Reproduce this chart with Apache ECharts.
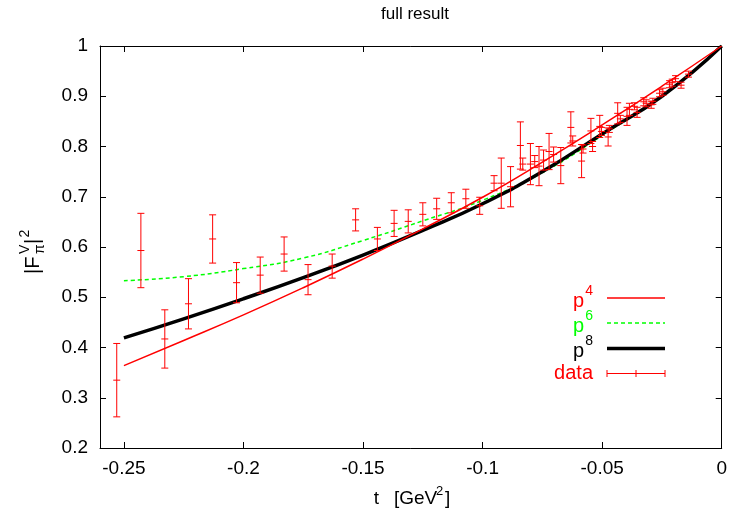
<!DOCTYPE html>
<html>
<head>
<meta charset="utf-8">
<script src="https://cdn.jsdelivr.net/npm/echarts@6/dist/echarts.min.js"></script>
<style>html,body{margin:0;padding:0;background:#fff}#c{width:730px;height:517px}</style>
</head>
<body>
<div id="c"></div>
<script>
// ---- data ----
const curveT = [-0.25, -0.225, -0.2, -0.175, -0.15, -0.125, -0.1, -0.075, -0.05, -0.025, 0];
const p4 = [0.364, 0.414, 0.465, 0.519, 0.576, 0.636, 0.699, 0.769, 0.843, 0.920, 1.0];
const p6 = [0.533, 0.541, 0.557, 0.578, 0.613, 0.652, 0.693, 0.748, 0.822, 0.901, 1.0];
const p8 = [0.419, 0.457, 0.497, 0.539, 0.584, 0.633, 0.686, 0.750, 0.825, 0.900, 1.0];

const dataT = [-0.2530, -0.2429, -0.2329, -0.2230, -0.2129, -0.2029, -0.1930, -0.1830, -0.1730, -0.1629,
  -0.1531, -0.1440, -0.1370, -0.1311, -0.1250, -0.1192, -0.1131, -0.1070, -0.1012, -0.0952,
  -0.0922, -0.0883, -0.0842, -0.0832, -0.0800, -0.0782, -0.0764, -0.0745, -0.0722, -0.0703,
  -0.0673, -0.0631, -0.0623, -0.0586, -0.0580, -0.0547, -0.0540, -0.0510, -0.0503, -0.0475,
  -0.0470, -0.0435, -0.0424, -0.0396, -0.0386, -0.0365, -0.0354, -0.0326, -0.0316, -0.0295,
  -0.0288, -0.0260, -0.0246, -0.0218, -0.0207, -0.0193, -0.0170, -0.0139];
const dataF = [0.335, 0.593, 0.417, 0.487, 0.616, 0.529, 0.544, 0.586, 0.535, 0.562,
  0.654, 0.616, 0.647, 0.651, 0.665, 0.676, 0.688, 0.696, 0.682, 0.727,
  0.727, 0.720, 0.802, 0.765, 0.765, 0.770, 0.761, 0.773, 0.790, 0.784,
  0.762, 0.838, 0.811, 0.771, 0.795, 0.831, 0.800, 0.840, 0.830, 0.819,
  0.835, 0.866, 0.855, 0.860, 0.874, 0.880, 0.868, 0.889, 0.886, 0.883,
  0.890, 0.906, 0.909, 0.924, 0.927, 0.935, 0.922, 0.944];
const dataErr = [0.073, 0.074, 0.058, 0.050, 0.048, 0.040, 0.036, 0.034, 0.030, 0.024,
  0.022, 0.023, 0.026, 0.023, 0.023, 0.021, 0.020, 0.019, 0.017, 0.015,
  0.050, 0.040, 0.047, 0.012, 0.041, 0.012, 0.039, 0.020, 0.036, 0.015,
  0.036, 0.031, 0.010, 0.033, 0.008, 0.025, 0.010, 0.022, 0.008, 0.018,
  0.007, 0.021, 0.007, 0.018, 0.012, 0.007, 0.010, 0.008, 0.007, 0.007,
  0.006, 0.007, 0.007, 0.007, 0.007, 0.006, 0.006, 0.006];

const xTicks = [-0.25, -0.2, -0.15, -0.1, -0.05, 0];
const titleText = 'full result';
// ---------------

const FONT = 'Liberation Sans, Arial, sans-serif';
const chart = echarts.init(document.getElementById('c'), null, {renderer: 'canvas'});
const zip = (a, b) => a.map((v, i) => [v, b[i]]);
const errData = dataT.map((t, i) => [t, dataF[i], dataErr[i]]);

const axisCommon = {
  axisLine: {show: true, onZero: false, lineStyle: {color: '#000', width: 1}},
  splitLine: {show: false}
};

function txt(x, y, text, size, color, align, extra) {
  return Object.assign({type: 'text', x: x, y: y, style: {text: text, font: size + 'px ' + FONT, fill: color || '#000', textAlign: align || 'left', textVerticalAlign: 'middle'}}, extra || {});
}

const legendY = [298, 323, 348.5, 373.5];
const LX = 593, L0 = 607, L1 = 665;
const FS = 19;

chart.setOption({
  animation: false,
  graphic: [
    // title
    txt(415, 14, titleText, 17, '#000', 'center'),
    // y axis name
    {type: 'group', x: 33, y: 247, rotation: Math.PI / 2, children: [
      txt(-27, 0, '|F', 20),
      txt(-7, -8, 'V', 14),
      txt(-7, 7, 'π', 14),
      txt(3, 0, '|', 20),
      txt(9.5, -8, '2', 14)
    ]},
    // x axis name
    txt(379, 499, 't', FS, '#000', 'right'),
    txt(394, 499, '[GeV', FS),
    txt(436, 491, '2', 13),
    txt(445, 499, ']', FS),
    // legend
    txt(LX - 9, legendY[0] + 3, 'p', 20, '#ff0000', 'right'),
    txt(LX, legendY[0] - 7, '4', 14, '#ff0000', 'right'),
    {type: 'line', shape: {x1: L0, y1: legendY[0], x2: L1, y2: legendY[0]}, style: {stroke: '#ff0000', lineWidth: 1.5}},
    txt(LX - 9, legendY[1] + 3, 'p', 20, '#00ff00', 'right'),
    txt(LX, legendY[1] - 7, '6', 14, '#00ff00', 'right'),
    {type: 'line', shape: {x1: L0, y1: legendY[1], x2: L1, y2: legendY[1]}, style: {stroke: '#00ff00', lineWidth: 1.5, lineDash: [4, 3]}},
    txt(LX - 9, legendY[2] + 3, 'p', 20, '#000', 'right'),
    txt(LX, legendY[2] - 7, '8', 14, '#000', 'right'),
    {type: 'line', shape: {x1: L0, y1: legendY[2], x2: L1, y2: legendY[2]}, style: {stroke: '#000', lineWidth: 3.5}},
    txt(LX, legendY[3], 'data', 20, '#ff0000', 'right'),
    {type: 'line', shape: {x1: L0, y1: legendY[3], x2: L1, y2: legendY[3]}, style: {stroke: '#ff0000', lineWidth: 1}},
    {type: 'line', shape: {x1: L0, y1: legendY[3] - 3.5, x2: L0, y2: legendY[3] + 3.5}, style: {stroke: '#ff0000', lineWidth: 1}},
    {type: 'line', shape: {x1: L1, y1: legendY[3] - 3.5, x2: L1, y2: legendY[3] + 3.5}, style: {stroke: '#ff0000', lineWidth: 1}},
    {type: 'line', shape: {x1: (L0 + L1) / 2, y1: legendY[3] - 3.5, x2: (L0 + L1) / 2, y2: legendY[3] + 3.5}, style: {stroke: '#ff0000', lineWidth: 1}}
  ],
  grid: {left: 100, right: 4, top: 46, bottom: 69},
  xAxis: [
    Object.assign({type: 'value', min: -0.26, max: 0, position: 'bottom',
      axisTick: {show: true, inside: true, length: 6, customValues: xTicks, lineStyle: {color: '#000'}},
      axisLabel: {show: true, customValues: xTicks, margin: 11, fontFamily: FONT, fontSize: FS, color: '#000', formatter: v => String(v)}
    }, axisCommon),
    Object.assign({type: 'value', min: -0.26, max: 0, position: 'top',
      axisTick: {show: true, inside: true, length: 6, customValues: xTicks, lineStyle: {color: '#000'}},
      axisLabel: {show: false}
    }, axisCommon)
  ],
  yAxis: [
    Object.assign({type: 'value', min: 0.2, max: 1, interval: 0.1, position: 'left',
      axisTick: {show: true, inside: true, length: 6, lineStyle: {color: '#000'}},
      axisLabel: {show: true, margin: 12, fontFamily: FONT, fontSize: FS, color: '#000', formatter: v => String(Math.round(v * 10) / 10)}
    }, axisCommon),
    Object.assign({type: 'value', min: 0.2, max: 1, interval: 0.1, position: 'right',
      axisTick: {show: true, inside: true, length: 6, lineStyle: {color: '#000'}},
      axisLabel: {show: false}
    }, axisCommon)
  ],
  series: [
    {name: 'p4', type: 'line', data: zip(curveT, p4), smooth: true, showSymbol: false,
      lineStyle: {color: '#ff0000', width: 1.5}, z: 3},
    {name: 'p6', type: 'line', data: zip(curveT, p6), smooth: true, showSymbol: false,
      lineStyle: {color: '#00ff00', width: 1.5, type: [4, 3]}, z: 2},
    {name: 'p8', type: 'line', data: zip(curveT, p8), smooth: true, showSymbol: false,
      lineStyle: {color: '#000000', width: 3.5}, z: 2},
    {name: 'data', type: 'custom', data: errData, z: 4, clip: false,
      renderItem: function (params, api) {
        const t = api.value(0), f = api.value(1), e = api.value(2);
        const c = api.coord([t, f]), a = api.coord([t, f + e]), b = api.coord([t, f - e]);
        const w = 3.5;
        const st = {stroke: '#ff0000', lineWidth: 1};
        return {type: 'group', children: [
          {type: 'line', shape: {x1: c[0], y1: a[1], x2: c[0], y2: b[1]}, style: st},
          {type: 'line', shape: {x1: c[0] - w, y1: a[1], x2: c[0] + w, y2: a[1]}, style: st},
          {type: 'line', shape: {x1: c[0] - w, y1: b[1], x2: c[0] + w, y2: b[1]}, style: st},
          {type: 'line', shape: {x1: c[0] - w, y1: c[1], x2: c[0] + w, y2: c[1]}, style: st}
        ]};
      }}
  ]
});
</script>
</body>
</html>
